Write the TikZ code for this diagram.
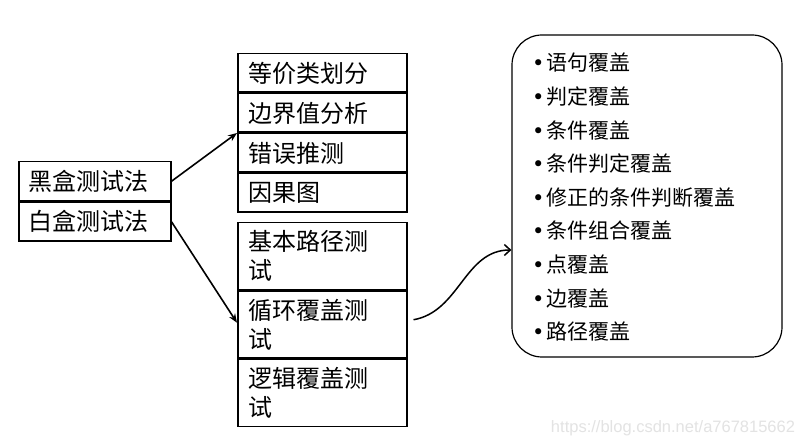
\documentclass[tikz,border=0pt]{standalone}
\usepackage{fontspec}
\setmainfont{Noto Sans CJK SC}
\newfontfamily\dotfont{DejaVu Sans}
\newfontfamily\wmfont{Liberation Sans}
\usetikzlibrary{positioning,arrows.meta}

\begin{document}
\begin{tikzpicture}[x=1pt, y=1pt,
  cell/.style={draw, line width=1.5pt, anchor=north west, minimum width=152pt, minimum height=39pt,
    text width=132pt, inner xsep=10pt, inner ysep=0pt, align=left, font=\fontsize{24}{29}\selectfont},
  mcell/.style={cell, minimum width=169pt, text width=147pt, inner xsep=11pt, minimum height=38.5pt},
  tcell/.style={mcell, minimum height=67pt},
  arr/.style={line width=1.6pt, -{Stealth[length=9pt, width=7pt]}},
  carr/.style={line width=1.5pt, -{Straight Barb[length=6pt, width=11pt, line width=1.5pt]}},
  item/.style={anchor=west, inner sep=0pt, font=\fontsize{21}{25}\selectfont}]
  \useasboundingbox[fill=white] (0,0) rectangle (800,446);

  % Left box
  \node[cell] (black) at (18,285) {黑盒测试法};
  \node[cell, below=0pt of black] (white) {白盒测试法};

  % Black box methods
  \node[mcell] (part) at (237,393) {等价类划分};
  \node[mcell, below=0pt of part] (bound) {边界值分析};
  \node[mcell, below=0pt of bound] (guess) {错误推测};
  \node[mcell, below=0pt of guess] (cause) {因果图};

  % White box methods
  \node[tcell] (path) at (237,224) {基本路径测\\试};
  \node[tcell, below=0pt of path] (loop) {循环覆盖测\\试};
  \node[tcell, below=0pt of loop] (logic) {逻辑覆盖测\\试};

  % Coverage list
  \node[draw, line width=1.2pt, rounded corners=30pt, minimum width=270pt, minimum height=322pt] (cov) at (647,250) {};
  \foreach \t [count=\i] in {语句覆盖, 判定覆盖, 条件覆盖, 条件判定覆盖, 修正的条件判断覆盖,
      条件组合覆盖, 点覆盖, 边覆盖, 路径覆盖}
    \node[item] (item\i) at (532, 383-\i*33.6+33.6) {{\dotfont\textbullet}\hspace{2pt}\t};

  % Connectors
  \draw[arr] (black.east) -- (bound.south west);
  \draw[arr] (white.east) -- ([yshift=2pt]loop.west);
  \coordinate (cstart) at ([xshift=6pt, yshift=5pt]loop.east);
  \coordinate (cend) at ([yshift=-54pt]cov.west);
  \draw[carr] (cstart) to[out=10, in=180] (cend);

  % Watermark
  \node[text=gray!22, font=\wmfont\fontsize{16.5}{19}\selectfont] (wm) at (673,18) {https://blog.csdn.net/a767815662};
\end{tikzpicture}
\end{document}
